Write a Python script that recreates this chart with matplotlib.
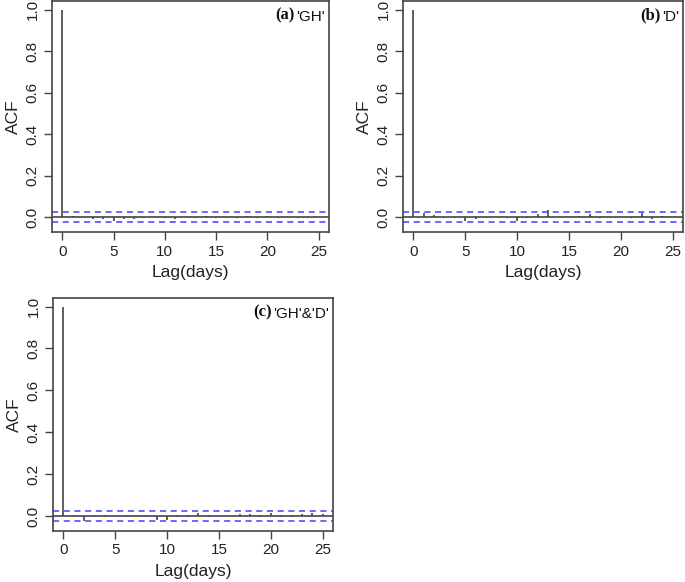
import numpy as np
import matplotlib.pyplot as plt

plt.rcParams['font.family'] = ['Liberation Sans', 'DejaVu Sans']

lags = np.arange(0, 26)

acf_gh = [1.0, 0.008, 0.002, -0.008, -0.008, -0.016, -0.010, -0.010, -0.006, 0.002, -0.004,
          -0.010, 0.002, -0.005, 0.006, -0.003, 0.002, -0.003, 0.007, -0.006, 0.008,
          -0.004, 0.002, -0.005, -0.006, 0.002]
acf_d = [1.0, 0.022, 0.010, -0.006, -0.006, -0.020, -0.008, -0.006, 0.003, -0.005, -0.020,
         -0.006, 0.015, 0.034, 0.002, 0.003, 0.008, 0.015, -0.006, 0.002, 0.003,
         -0.005, 0.020, -0.008, 0.006, 0.002]
acf_ghd = [1.0, -0.006, -0.022, -0.006, 0.004, 0.002, 0.004, -0.006, -0.006, -0.018, -0.020,
           -0.005, 0.005, 0.016, -0.004, 0.002, 0.002, 0.010, 0.010, -0.006, 0.014,
           -0.003, -0.003, 0.010, 0.016, 0.008]
ci = 0.024

panels = [
    ('(a)', "'GH'", acf_gh, [52, 1, 329, 232]),
    ('(b)', "'D'", acf_d, [403, 1, 683, 232]),
    ('(c)', "'GH'&'D'", acf_ghd, [53, 298, 333, 531]),
]

W, H = 685, 582
fig = plt.figure(figsize=(W / 100, H / 100), dpi=100)
fg = '#444444'

for tag, name, vals, (l, t, r, b) in panels:
    ax = fig.add_axes([l / W, 1 - b / H, (r - l) / W, (b - t) / H])
    ax.vlines(lags, 0, vals, color=fg, lw=1.2)
    ax.axhline(0, color=fg, lw=1.2)
    ax.axhline(ci, color='#4040ff', lw=1.1, ls=(0, (4, 3)))
    ax.axhline(-ci, color='#4040ff', lw=1.1, ls=(0, (4, 3)))
    ax.set_xlim(-1, 26)
    ax.set_ylim(-0.071, 1.041)
    ax.set_xticks([0, 5, 10, 15, 20, 25])
    ax.set_yticks([0, 0.2, 0.4, 0.6, 0.8, 1.0])
    ax.set_yticklabels(['0.0', '0.2', '0.4', '0.6', '0.8', '1.0'], rotation=90, va='center')
    ax.tick_params(length=6, width=1, color=fg, labelsize=11, labelcolor='#222222', pad=3)
    for s in ax.spines.values():
        s.set_color(fg)
        s.set_linewidth(1.2)
    ax.set_xlabel('Lag(days)', fontsize=12.5, labelpad=5, color='#222222')
    ax.set_ylabel('ACF', fontsize=12.5, labelpad=3, color='#222222')
    t1 = ax.text(0.985, 0.915, name, transform=ax.transAxes, ha='right', va='baseline',
                 fontsize=11, color='#111111')
    ax.annotate(tag, xy=(0, 0), xycoords=t1, ha='right', va='bottom', xytext=(-1, 0),
                textcoords='offset points', fontsize=12, fontweight='bold',
                family='Liberation Serif', color='#111111')

fig.savefig('out.png', dpi=100)
